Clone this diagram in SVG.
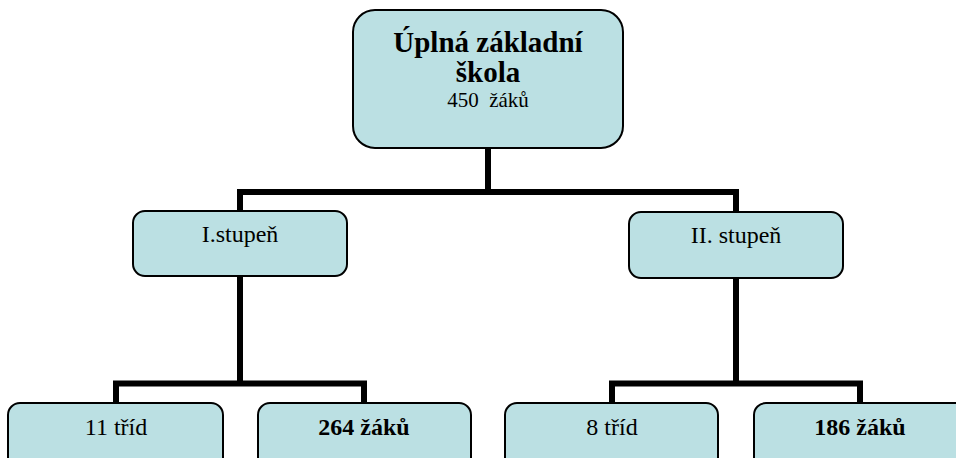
<svg xmlns="http://www.w3.org/2000/svg" width="956" height="458" viewBox="0 0 956 458">
<style>
.box{fill:#BBE0E3;stroke:#000;stroke-width:2}
.t{font-family:"Liberation Serif","Times New Roman",serif;font-size:24px;fill:#000;text-anchor:middle}
.b{font-weight:bold}
.title{font-size:29px}
.conn{fill:none;stroke:#000;stroke-width:6;stroke-linejoin:miter}
</style>
<rect width="956" height="458" fill="#fff"/>
<g id="connectors">
<path class="conn" d="M488,148 V192 M240,211 V192 H736 V212"/>
<path class="conn" d="M240,276 V383.5 M116,403 V383.5 H364 V403"/>
<path class="conn" d="M736,278 V383.5 M612,403 V383.5 H860 V403"/>
</g>
<g id="root">
<rect class="box" x="353" y="10" width="270" height="138" rx="22"/>
<text class="t b title" x="488" y="52">Úplná základní</text>
<text class="t b title" x="488" y="82">škola</text>
<text class="t" x="488" y="107" style="font-size:21px;white-space:pre" xml:space="preserve">450  žáků</text>
</g>
<g id="stupen1">
<rect class="box" x="133" y="211" width="214" height="65" rx="12"/>
<text class="t" x="240" y="242">I.stupeň</text>
</g>
<g id="stupen2">
<rect class="box" x="629" y="212" width="214" height="66" rx="12"/>
<text class="t" x="736" y="243">II. stupeň</text>
</g>
<g id="tridy1">
<rect class="box" x="8" y="403" width="215" height="66" rx="12"/>
<text class="t" x="116" y="435">11 tříd</text>
</g>
<g id="zaci1">
<rect class="box" x="258" y="403" width="213" height="66" rx="12"/>
<text class="t b" x="364" y="435">264 žáků</text>
</g>
<g id="tridy2">
<rect class="box" x="505" y="403" width="213" height="66" rx="12"/>
<text class="t" x="612" y="435">8 tříd</text>
</g>
<g id="zaci2">
<rect class="box" x="754" y="403" width="213" height="66" rx="12"/>
<text class="t b" x="860" y="435">186 žáků</text>
</g>
</svg>
